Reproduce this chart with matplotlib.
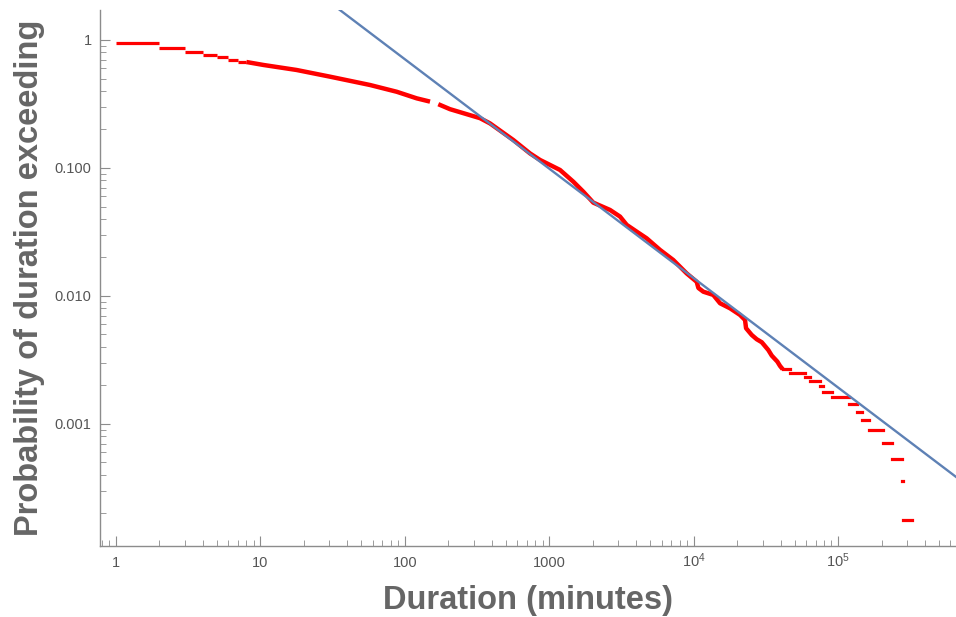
import numpy as np
import matplotlib
matplotlib.use('Agg')
import matplotlib.pyplot as plt
from matplotlib.ticker import LogLocator, NullFormatter

plt.rcParams['font.family'] = ['Liberation Sans', 'DejaVu Sans']
plt.rcParams['mathtext.default'] = 'regular'

# 前几分钟的台阶 (整数分钟)
early_edges = [1, 2, 3, 4, 5, 6, 7, 8]
early_levels = [0.953, 0.871, 0.810, 0.768, 0.733, 0.702, 0.677]

# 中段, 密集到看起来是一条线 (150~170 分钟之间有一小段空缺)
mid_a_x = [8.0, 10.5, 17.8, 30.3, 57.4, 87.9, 120.9, 149.5]
mid_a_p = [0.673, 0.638, 0.583, 0.517, 0.445, 0.394, 0.350, 0.330]
mid_b_x = [170.6, 205.6, 331.8, 389, 564, 736, 864, 961, 1188, 1469, 1722, 2020,
           2637, 3093, 3443, 4036, 4732, 5851, 7230, 8956, 10500, 10790, 11670,
           13680, 15240, 17870, 20950, 22700, 23070, 25250, 27350, 29640, 32910,
           34750, 38000, 39650, 41400]
mid_b_p = [0.315, 0.288, 0.245, 0.223, 0.1655, 0.130, 0.1155, 0.1088, 0.0965,
           0.0781, 0.0653, 0.0536, 0.0470, 0.0417, 0.0359, 0.0318, 0.0282, 0.0229,
           0.0191, 0.0150, 0.0129, 0.01155, 0.0108, 0.01019, 0.00877, 0.00801,
           0.00711, 0.00649, 0.00560, 0.00496, 0.00459, 0.00435, 0.00378, 0.00342,
           0.00307, 0.00284, 0.002675]

# 尾部台阶
tail_edges = [41400, 46500, 59100, 64000, 75000, 78100, 90200, 119200, 135400,
              145400, 164000, 203300, 234900, 277500, 282000, 325300]
tail_levels = [0.002675, 0.002489, 0.002317, 0.002148, 0.001982, 0.001788,
               0.001611, 0.001433, 0.001248, 0.001074, 0.000893, 0.000714,
               0.000536, 0.000357, 0.000178]

# 幂律拟合线 P = C * x^(-alpha)
fit_C = 36.3
fit_alpha = 0.855
fit_range = [35, 6.6e5]

x_ticks = [1, 10, 100, 1000, 1e4, 1e5]
x_tick_labels = ['1', '10', '100', '1000', '$10^4$', '$10^5$']
y_ticks = [1, 0.1, 0.01, 0.001]
y_tick_labels = ['1', '0.100', '0.010', '0.001']

fig = plt.figure(figsize=(9.56, 6.17), dpi=100)
ax = fig.add_axes([100 / 956, 71 / 617, 856 / 956, 536 / 617])
ax.set_xscale('log')
ax.set_yscale('log')

red = '#ff0000'
ax.hlines(early_levels, early_edges[:-1], early_edges[1:], color=red, lw=2.3)
ax.plot(mid_a_x, mid_a_p, color=red, lw=3.2, solid_capstyle='butt')
ax.plot(mid_b_x, mid_b_p, color=red, lw=3.2, solid_capstyle='butt')
ax.hlines(tail_levels, tail_edges[:-1], tail_edges[1:], color=red, lw=2.3,
          capstyle='projecting')

fx = np.array(fit_range)
ax.plot(fx, fit_C * fx ** (-fit_alpha), color='#5e81b5', lw=1.7)

ax.set_xlim(0.775, 6.56e5)
ax.set_ylim(1.113e-4, 1.715)

ax.set_xticks(x_ticks)
ax.set_xticklabels(x_tick_labels)
ax.set_yticks(y_ticks)
ax.set_yticklabels(y_tick_labels)
ax.xaxis.set_minor_locator(LogLocator(base=10, subs=np.arange(2, 10), numticks=20))
ax.yaxis.set_minor_locator(LogLocator(base=10, subs=np.arange(2, 10), numticks=20))
ax.xaxis.set_minor_formatter(NullFormatter())
ax.yaxis.set_minor_formatter(NullFormatter())

gray = '#8c8c8c'
ax.tick_params(which='major', direction='in', length=7, width=0.8, color=gray,
               labelcolor='#555555', labelsize=10.5)
ax.tick_params(which='minor', direction='in', length=4, width=0.6, color=gray)
ax.tick_params(axis='x', which='major', pad=15)
ax.tick_params(axis='y', which='major', pad=6)
for lab in ax.get_xticklabels():
    lab.set_verticalalignment('baseline')
for s in ['top', 'right']:
    ax.spines[s].set_visible(False)
for s in ['left', 'bottom']:
    ax.spines[s].set_color(gray)
    ax.spines[s].set_linewidth(1.0)

fig.text(528 / 956, 1 - 600 / 617, 'Duration (minutes)', ha='center', va='center',
         fontsize=23.5, fontweight='bold', color='#666666')
fig.text(30 / 956, 1 - 278 / 617, 'Probability of duration exceeding', ha='center',
         va='center', rotation=90, fontsize=23.5, fontweight='bold', color='#666666')

fig.savefig('out.png', dpi=100)
